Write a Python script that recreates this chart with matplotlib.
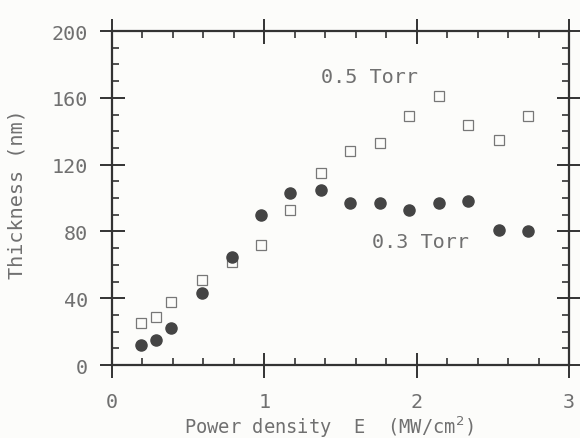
import numpy as np
import matplotlib.pyplot as plt
from matplotlib.ticker import MultipleLocator

# 0.5 Torr (open squares)
e_05 = [0.19, 0.29, 0.39, 0.59, 0.79, 0.98, 1.17, 1.37, 1.56, 1.76, 1.95, 2.15, 2.34, 2.54, 2.73]
t_05 = [25, 29, 38, 51, 62, 72, 93, 115, 128, 133, 149, 161, 144, 135, 149]

# 0.3 Torr (filled circles)
e_03 = [0.19, 0.29, 0.39, 0.59, 0.79, 0.98, 1.17, 1.37, 1.56, 1.76, 1.95, 2.15, 2.34, 2.54, 2.73]
t_03 = [12, 15, 22, 43, 65, 90, 103, 105, 97, 97, 93, 97, 98, 81, 80]

xticks = [0, 1, 2, 3]
yticks = [0, 40, 80, 120, 160, 200]

ink = '#333333'
txt = '#707070'
plt.rcParams['font.family'] = 'DejaVu Sans Mono'

fig = plt.figure(figsize=(5.8, 4.39), dpi=100, facecolor='#fcfcfa')
ax = fig.add_axes([0.193, 0.166, 0.788, 0.761], facecolor='#fcfcfa')

ax.plot(e_05, t_05, 's', ms=7.5, mfc='none', mec='#777777', mew=0.9)
ax.plot(e_03, t_03, 'o', ms=8, mfc='#444444', mec='#444444')

ax.text(1.37, 173, '0.5 Torr', fontsize=14.5, color=txt, va='center')
ax.text(1.71, 74, '0.3 Torr', fontsize=14.5, color=txt, va='center')

ax.set_xlim(0, 3)
ax.set_ylim(0, 200)
ax.set_xticks(xticks)
ax.set_yticks(yticks)
ax.xaxis.set_minor_locator(MultipleLocator(0.2))
ax.yaxis.set_minor_locator(MultipleLocator(10))

for s in ax.spines.values():
    s.set_color(ink)
    s.set_linewidth(1.6)

ax.tick_params(which='major', direction='inout', length=18, width=1.4, color=ink,
               top=True, right=True, labelsize=14.5, labelcolor=txt)
ax.tick_params(axis='y', which='major', pad=8)
ax.tick_params(axis='x', which='major', pad=10)
ax.tick_params(which='minor', direction='in', length=5, width=1.2, color=ink,
               top=True, right=True)

ax.set_xlabel('Power density  E  (MW/cm$^2$)', fontsize=13.5, color=txt)
ax.set_ylabel('Thickness (nm)', fontsize=14.5, color=txt)
ax.xaxis.set_label_coords(0.475, -0.145)
ax.yaxis.set_label_coords(-0.186, 0.515)

fig.savefig('out.png', dpi=100, facecolor=fig.get_facecolor())
